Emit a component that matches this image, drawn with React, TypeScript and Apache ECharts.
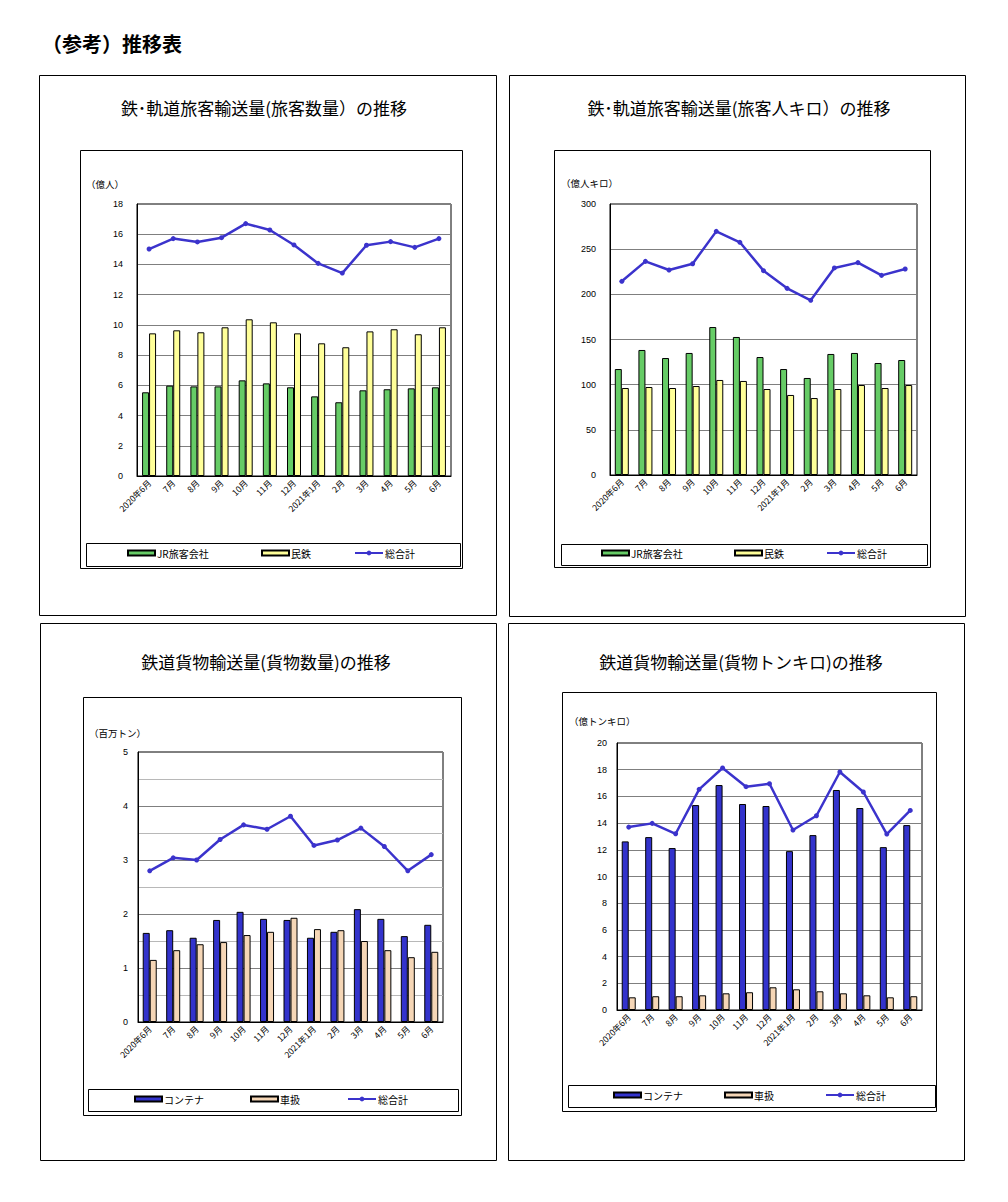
import React, { useEffect, useRef } from "react";
import * as echarts from "echarts";

// ---- data ----
const months = ["2020年6月", "7月", "8月", "9月", "10月", "11月", "12月", "2021年1月", "2月", "3月", "4月", "5月", "6月"];

// 旅客数量 (億人)
const paxJR = [5.54, 5.98, 5.93, 5.93, 6.33, 6.13, 5.87, 5.27, 4.88, 5.67, 5.74, 5.8, 5.87];
const paxPrivate = [9.44, 9.64, 9.51, 9.84, 10.37, 10.17, 9.44, 8.78, 8.52, 9.57, 9.71, 9.38, 9.84];
const paxTotal = [15.02, 15.71, 15.49, 15.77, 16.7, 16.28, 15.29, 14.07, 13.43, 15.27, 15.51, 15.13, 15.71];

// 旅客人キロ (億人キロ)
const pkmJR = [117.3, 138.4, 129.5, 135.1, 163.8, 152.8, 130.6, 117.3, 107.4, 134.0, 135.1, 124.0, 127.3];
const pkmPrivate = [96.3, 97.4, 96.3, 98.5, 105.2, 104.1, 95.2, 88.6, 85.2, 95.2, 99.6, 96.3, 99.6];
const pkmTotal = [214.4, 236.5, 226.9, 233.9, 269.7, 257.6, 226.2, 206.6, 193.4, 229.2, 235.1, 221.0, 228.0];

// 貨物数量 (百万トン)
const frtContainer = [1.65, 1.7, 1.56, 1.89, 2.04, 1.91, 1.89, 1.56, 1.67, 2.09, 1.91, 1.59, 1.8];
const frtCar = [1.15, 1.33, 1.44, 1.48, 1.61, 1.67, 1.93, 1.72, 1.7, 1.5, 1.33, 1.2, 1.3];
const frtTotal = [2.8, 3.04, 3.0, 3.38, 3.65, 3.57, 3.81, 3.27, 3.37, 3.59, 3.25, 2.8, 3.1];

// 貨物トンキロ (億トンキロ)
const tkmContainer = [12.63, 12.95, 12.13, 15.35, 16.85, 15.43, 15.28, 11.9, 13.1, 16.48, 15.13, 12.2, 13.85];
const tkmCar = [0.95, 1.03, 1.03, 1.1, 1.25, 1.33, 1.7, 1.55, 1.4, 1.25, 1.1, 0.95, 1.03];
const tkmTotal = [13.7, 13.98, 13.2, 16.53, 18.13, 16.73, 16.95, 13.48, 14.55, 17.83, 16.33, 13.18, 14.95];

const seriesNames = { jr: "JR旅客会社", priv: "民鉄", cont: "コンテナ", car: "車扱", total: "総合計" };

// ---- styles ----
const JP = '"Noto Sans CJK JP", "Noto Sans", sans-serif';
const NUM = '"Liberation Sans", Arial, sans-serif';
const GREEN = "#66CC66";
const YELLOW = "#FFFF99";
const BLUE = "#3333CC";
const TAN = "#F5D6B6";
const LINE = "#3B33CC";

const panels = [
  {
    title: "鉄･軌道旅客輸送量(旅客数量）の推移", titleX: 264, titleY: 107,
    unit: "（億人）", unitX: 86, unitY: 184,
    outer: [39, 75, 457, 540], inner: [80, 150, 382, 418], legendBox: [86, 543, 374, 23],
    legendX: [127, 261, 354], legendY: 555,
    grid: { left: 137, top: 204, width: 314, height: 272 },
    max: 18, interval: 2, labelMargin: 14, minor: false,
    bars: [
      { name: seriesNames.jr, data: paxJR, color: GREEN },
      { name: seriesNames.priv, data: paxPrivate, color: YELLOW },
    ],
    total: paxTotal,
  },
  {
    title: "鉄･軌道旅客輸送量(旅客人キロ）の推移", titleX: 739, titleY: 107,
    unit: "（億人キロ）", unitX: 561, unitY: 183,
    outer: [509, 75, 456, 541], inner: [554, 150, 376, 417], legendBox: [561, 544, 366, 21],
    legendX: [601, 734, 826], legendY: 555,
    grid: { left: 610, top: 204, width: 307, height: 271 },
    max: 300, interval: 50, labelMargin: 14, minor: false,
    bars: [
      { name: seriesNames.jr, data: pkmJR, color: GREEN },
      { name: seriesNames.priv, data: pkmPrivate, color: YELLOW },
    ],
    total: pkmTotal,
  },
  {
    title: "鉄道貨物輸送量(貨物数量)の推移", titleX: 266, titleY: 661,
    unit: "（百万トン）", unitX: 89, unitY: 733,
    outer: [40, 623, 456, 537], inner: [83, 697, 378, 418], legendBox: [88, 1089, 370, 22],
    legendX: [134, 250, 347], legendY: 1101,
    grid: { left: 138, top: 752, width: 305, height: 270 },
    max: 5, interval: 1, labelMargin: 10, minor: true,
    bars: [
      { name: seriesNames.cont, data: frtContainer, color: BLUE },
      { name: seriesNames.car, data: frtCar, color: TAN },
    ],
    total: frtTotal,
  },
  {
    title: "鉄道貨物輸送量(貨物トンキロ)の推移", titleX: 741, titleY: 661,
    unit: "（億トンキロ）", unitX: 569, unitY: 721,
    outer: [508, 623, 456, 537], inner: [562, 692, 374, 419], legendBox: [568, 1085, 367, 22],
    legendX: [613, 724, 825], legendY: 1097,
    grid: { left: 617, top: 743, width: 305, height: 267 },
    max: 20, interval: 2, labelMargin: 10, minor: false,
    bars: [
      { name: seriesNames.cont, data: tkmContainer, color: BLUE },
      { name: seriesNames.car, data: tkmCar, color: TAN },
    ],
    total: tkmTotal,
  },
];

function rect(b: number[]) {
  return {
    type: "rect",
    silent: true,
    shape: { x: b[0] + 0.5, y: b[1] + 0.5, width: b[2], height: b[3] },
    style: { fill: "none", stroke: "#000", lineWidth: 1 },
  };
}

function buildOption() {
  const grids: any[] = [];
  const xAxes: any[] = [];
  const yAxes: any[] = [];
  const series: any[] = [];
  const legends: any[] = [];
  const graphics: any[] = [];

  graphics.push({
    type: "text", left: 42, top: 33, silent: true,
    style: { text: "（参考）推移表", font: `bold 20px ${JP}`, fill: "#000" },
  });

  panels.forEach((p, i) => {
    grids.push({ ...p.grid, show: true, borderColor: "#000", borderWidth: 1, containLabel: false });
    xAxes.push({
      type: "category", gridIndex: i, data: months, boundaryGap: true,
      axisLine: { show: true, lineStyle: { color: "#000", width: 1 } },
      axisTick: { show: false },
      axisLabel: { interval: 0, rotate: 45, fontSize: 8.5, fontFamily: JP, color: "#000", margin: 5 },
    });
    yAxes.push({
      type: "value", gridIndex: i, min: 0, max: p.max, interval: p.interval,
      axisLine: { show: true, lineStyle: { color: "#000", width: 1 } },
      axisTick: { show: false },
      axisLabel: { fontSize: 9, fontFamily: NUM, color: "#000", margin: p.labelMargin },
      splitLine: { show: true, lineStyle: { color: "#7f7f7f", width: 1 } },
      minorTick: { show: false, splitNumber: 2 },
      minorSplitLine: { show: p.minor, lineStyle: { color: "#b8b8b8", width: 1 } },
    });
    p.bars.forEach((b) => {
      series.push({
        type: "bar", name: b.name, xAxisIndex: i, yAxisIndex: i, data: b.data,
        barWidth: 7, barGap: "0%",
        itemStyle: { color: b.color, borderColor: "#000", borderWidth: 1 },
        z: 2,
      });
    });
    series.push({
      type: "line", name: seriesNames.total, xAxisIndex: i, yAxisIndex: i, data: p.total,
      symbol: "circle", symbolSize: 5, showSymbol: true,
      lineStyle: { color: LINE, width: 2.5 },
      itemStyle: { color: LINE },
      z: 5,
    });

    const names = [p.bars[0].name, p.bars[1].name, seriesNames.total];
    names.forEach((n, k) => {
      const isLine = k === 2;
      legends.push({
        show: true, selectedMode: false, orient: "horizontal",
        left: p.legendX[k], top: p.legendY - 7, padding: 0,
        itemWidth: isLine ? 28 : 27, itemHeight: isLine ? 6 : 5, itemGap: 0,
        textStyle: { fontSize: 10, fontFamily: JP, color: "#000", padding: [0, 0, 0, -3] },
        data: [isLine ? { name: n } : { name: n, icon: "rect" }],
      });
    });

    graphics.push(rect(p.outer));
    graphics.push(rect(p.inner));
    graphics.push(rect(p.legendBox));
    graphics.push({
      type: "text", x: p.titleX, y: p.titleY, silent: true,
      style: { text: p.title, font: `17px ${JP}`, fill: "#000", textAlign: "center", textVerticalAlign: "middle" },
    });
    graphics.push({
      type: "text", x: p.unitX, y: p.unitY, silent: true,
      style: { text: p.unit, font: `9.5px ${JP}`, fill: "#000", textAlign: "left", textVerticalAlign: "middle" },
    });
  });

  return {
    animation: false,
    backgroundColor: "#fff",
    grid: grids,
    xAxis: xAxes,
    yAxis: yAxes,
    series,
    legend: legends,
    graphic: { elements: graphics },
    tooltip: { show: false },
  };
}

export default function App() {
  const ref = useRef<HTMLDivElement>(null);
  useEffect(() => {
    const chart = echarts.init(ref.current!, null, { renderer: "svg" });
    chart.setOption(buildOption() as any);
    return () => chart.dispose();
  }, []);
  return (
    <div
      ref={ref}
      style={{ position: "absolute", left: 0, top: 0, width: 1008, height: 1202, background: "#fff" }}
    />
  );
}
